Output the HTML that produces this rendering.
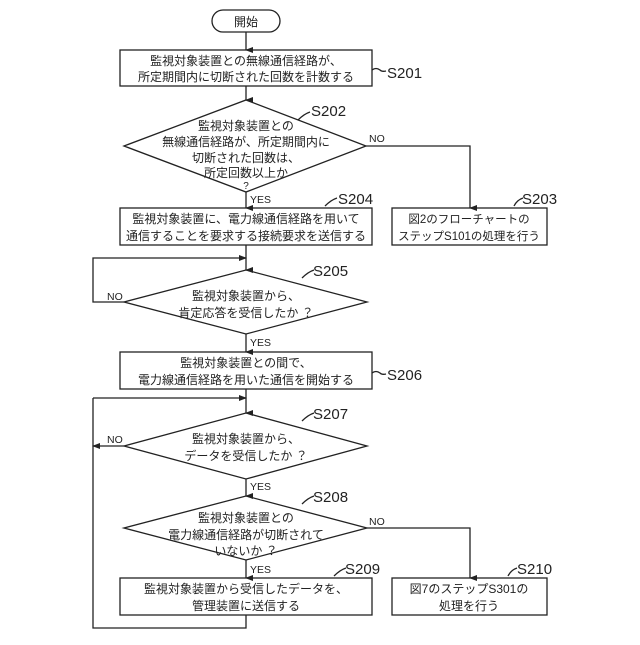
<!DOCTYPE html>
<html><head><meta charset="utf-8"><style>
html,body{margin:0;padding:0;background:#fff}
text{font-family:"Liberation Sans","Noto Sans CJK JP",sans-serif;fill:#222}
.t{font-size:12px;text-anchor:middle}
.s{font-size:10.5px}
.l text{font-family:"Liberation Sans Narrow","Liberation Sans",sans-serif;font-size:15px}
</style></head><body>
<svg width="640" height="640" viewBox="0 0 640 640" xmlns="http://www.w3.org/2000/svg">
<defs><marker id="a" markerWidth="8" markerHeight="8" refX="4" refY="7" orient="auto" markerUnits="userSpaceOnUse"><path d="M1,0 L4,8 L7,0 z" fill="#222"/></marker>
<marker id="h" markerWidth="8" markerHeight="8" refX="7" refY="4" orient="auto" markerUnits="userSpaceOnUse"><path d="M0,1 L8,4 L0,7 z" fill="#222"/></marker></defs>
<g fill="none" stroke="#222" stroke-width="1.3">
<rect x="212" y="10" width="68" height="22" rx="11"/>
<rect x="120" y="50" width="252" height="36"/>
<polygon points="246,100 366,146 246,192 124,146"/>
<rect x="120" y="208" width="252" height="37"/>
<rect x="392" y="208" width="155" height="37"/>
<polygon points="246,270 367,302 246,334 124,302"/>
<rect x="120" y="352" width="252" height="37"/>
<polygon points="246,413 367,446 246,479 124,446"/>
<polygon points="246,496 367,528 246,560 124,528"/>
<rect x="120" y="578" width="252" height="37"/>
<rect x="392" y="578" width="155" height="37"/>
<line x1="246" y1="32" x2="246" y2="50" marker-end="url(#a)"/>
<line x1="246" y1="86" x2="246" y2="100" marker-end="url(#a)"/>
<line x1="246" y1="192" x2="246" y2="208" marker-end="url(#a)"/>
<polyline points="366,146 470,146 470,208" marker-end="url(#a)"/>
<line x1="246" y1="245" x2="246" y2="270" marker-end="url(#a)"/>
<polyline points="124,302 93,302 93,258 246,258" marker-end="url(#h)"/>
<line x1="246" y1="334" x2="246" y2="352" marker-end="url(#a)"/>
<line x1="246" y1="389" x2="246" y2="413" marker-end="url(#a)"/>
<polyline points="93,398 246,398" marker-end="url(#h)"/>
<line x1="124" y1="446" x2="93" y2="446" marker-end="url(#h)"/>
<line x1="246" y1="479" x2="246" y2="496" marker-end="url(#a)"/>
<polyline points="367,528 470,528 470,578" marker-end="url(#a)"/>
<line x1="246" y1="560" x2="246" y2="578" marker-end="url(#a)"/>
<polyline points="246,615 246,628 93,628 93,398"/>
<path d="M372,70 q4,-3 8,0 q2,2 6,1"/>
<path d="M298,120 q6,-6 12,-8"/>
<path d="M325,206 q6,-6 12,-8"/>
<path d="M514,206 q3,-6 9,-8"/>
<path d="M302,278 q6,-6 12,-8"/>
<path d="M372,373 q4,-3 8,0 q2,2 6,1"/>
<path d="M302,421 q6,-6 12,-8"/>
<path d="M302,504 q6,-6 12,-8"/>
<path d="M334,576 q6,-6 12,-8"/>
<path d="M508,576 q3,-6 9,-8"/>
</g>
<text class="t" x="246" y="26">開始</text>
<text class="t" x="246" y="65">監視対象装置との無線通信経路が、</text>
<text class="t" x="246" y="81">所定期間内に切断された回数を計数する</text>
<text class="t" x="246" y="130">監視対象装置との</text>
<text class="t" x="246" y="146">無線通信経路が、所定期間内に</text>
<text class="t" x="246" y="162">切断された回数は、</text>
<text class="t" x="246" y="177">所定回数以上か</text>
<text class="t" x="246" y="189" style="font-size:10px">?</text>
<text class="t" x="246" y="223">監視対象装置に、電力線通信経路を用いて</text>
<text class="t" x="246" y="240">通信することを要求する接続要求を送信する</text>
<text class="t" x="469" y="223" style="font-size:11.5px">図2のフローチャートの</text>
<text class="t" x="469" y="240" style="font-size:11.5px">ステップS101の処理を行う</text>
<text class="t" x="246" y="300">監視対象装置から、</text>
<text class="t" x="246" y="317">肯定応答を受信したか ？</text>
<text class="t" x="246" y="367">監視対象装置との間で、</text>
<text class="t" x="246" y="384">電力線通信経路を用いた通信を開始する</text>
<text class="t" x="246" y="443">監視対象装置から、</text>
<text class="t" x="246" y="460">データを受信したか ？</text>
<text class="t" x="246" y="522">監視対象装置との</text>
<text class="t" x="246" y="539">電力線通信経路が切断されて</text>
<text class="t" x="246" y="555">いないか ？</text>
<text class="t" x="246" y="593">監視対象装置から受信したデータを、</text>
<text class="t" x="246" y="610">管理装置に送信する</text>
<text class="t" x="469" y="593">図7のステップS301の</text>
<text class="t" x="469" y="610">処理を行う</text>
<g class="l">
<text x="387" y="78">S201</text>
<text x="311" y="116">S202</text>
<text x="338" y="204">S204</text>
<text x="522" y="204">S203</text>
<text x="313" y="276">S205</text>
<text x="387" y="380">S206</text>
<text x="313" y="419">S207</text>
<text x="313" y="502">S208</text>
<text x="345" y="574">S209</text>
<text x="517" y="574">S210</text>
</g>
<text class="s" x="369" y="142">NO</text>
<text class="s" x="250" y="203">YES</text>
<text class="s" x="107" y="300">NO</text>
<text class="s" x="250" y="346">YES</text>
<text class="s" x="107" y="443">NO</text>
<text class="s" x="250" y="490">YES</text>
<text class="s" x="369" y="525">NO</text>
<text class="s" x="250" y="573">YES</text>
</svg>
</body></html>
